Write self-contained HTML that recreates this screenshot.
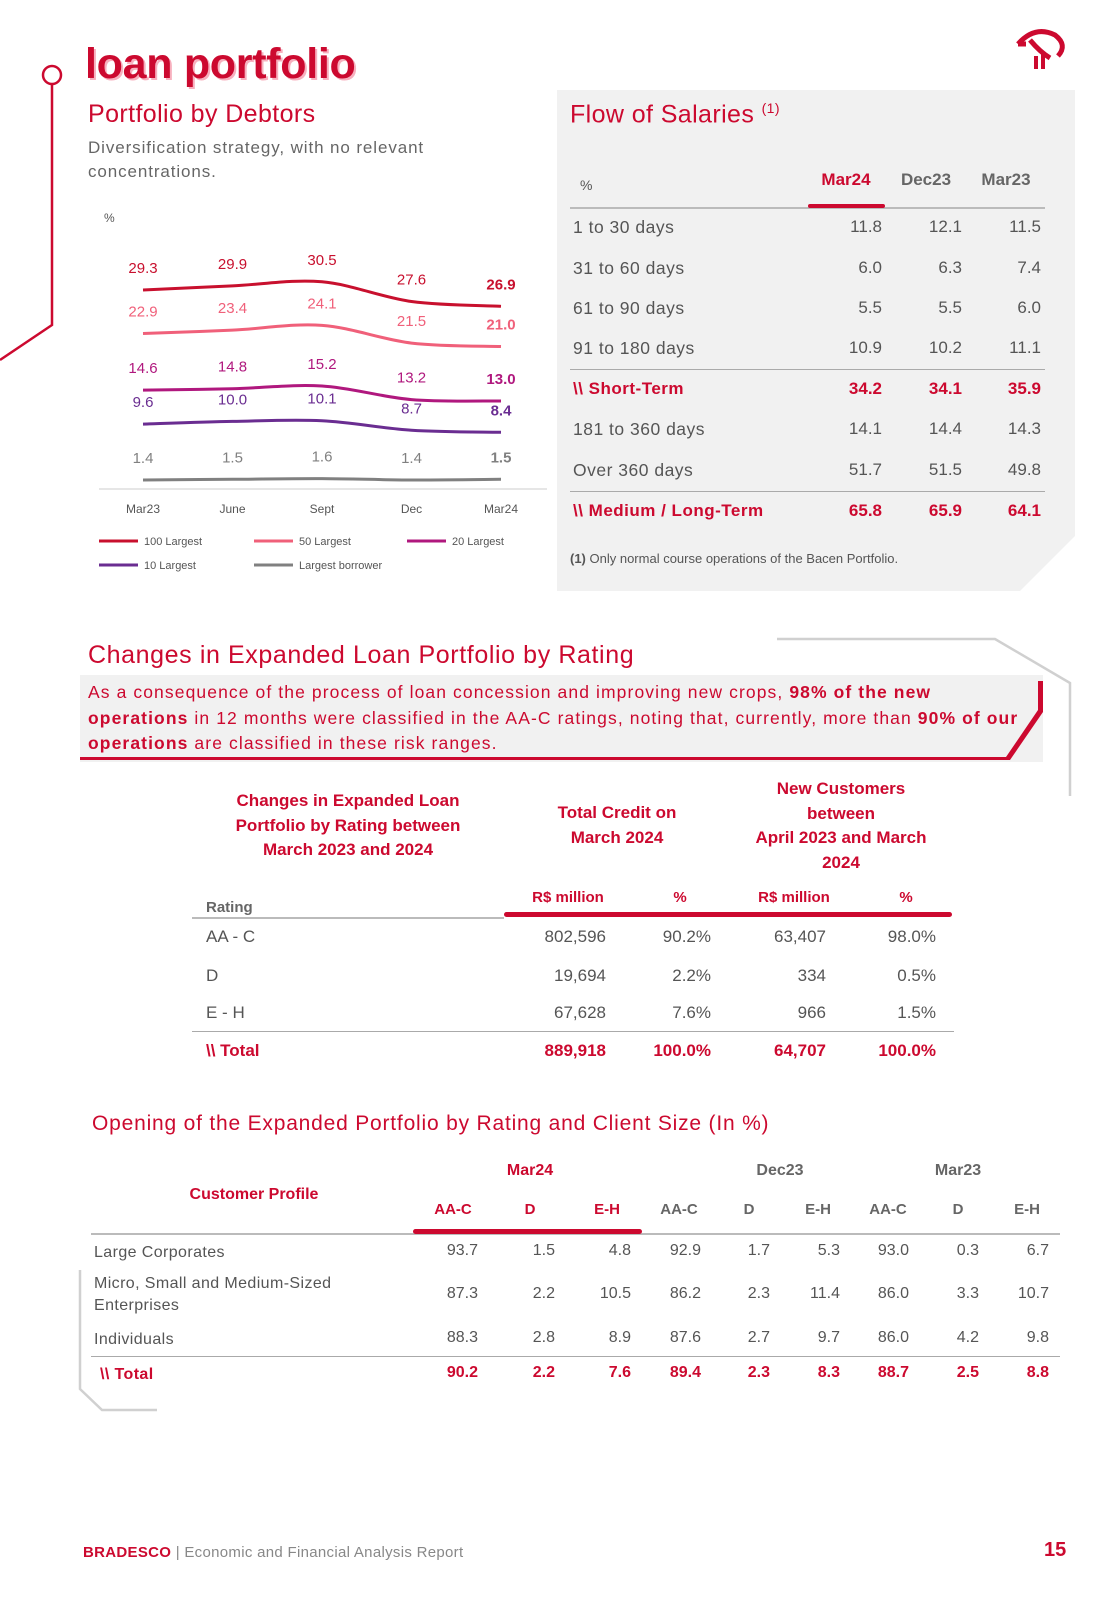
<!DOCTYPE html>
<html><head><meta charset="utf-8"><style>
body{margin:0;background:#fff;}
#page{position:relative;width:1105px;height:1602px;overflow:hidden;font-family:"Liberation Sans",sans-serif;color:#555;}
.a{position:absolute;white-space:nowrap;}
.red{color:#cc092f;}
.b{font-weight:bold;}
.r{text-align:right;}
.c{text-align:center;}
</style></head><body>
<div id="page">
<svg class="a" style="left:0;top:0" width="1105" height="1602">
 <circle cx="52" cy="75" r="9" fill="#fff" stroke="#cc092f" stroke-width="2.5"/>
 <polyline points="52,84 52,325 0,360" fill="none" stroke="#cc092f" stroke-width="2.5"/>
 <path d="M557 90 H1075 V536 L1020 591 H557 Z" fill="#f1f1f1"/>
 <polyline points="777,639 995,639 1070,683 1070,796" fill="none" stroke="#d0d0d0" stroke-width="2.5"/>
 <rect x="80" y="675" width="963" height="87" fill="#f1f1f1"/>
 <path d="M80 760 H1010 L1043 712 V681 H1038 V710 L1006 757 H80 Z" fill="#cc092f"/>
 <polyline points="80,1270 80,1389 102,1410 157,1410" fill="none" stroke="#d0d0d0" stroke-width="2.5"/>
 <g fill="none" stroke="#cc092f" stroke-width="5">
  <path d="M1018 44 Q1035 25 1055 35 Q1068 45 1058 56" />
  <path d="M1018 44 L1026 44 M1030 40 Q1040 52 1050 58"/>
 </g>
 <rect x="1034" y="56" width="4" height="13" fill="#cc092f"/><rect x="1041" y="52" width="4" height="17" fill="#cc092f"/>
</svg>

<div class="a red b" style="left:85px;top:40px;font-size:43px;text-shadow:2px 2px 0 #f7b0be;letter-spacing:-0.3px">loan portfolio</div>
<div class="a red" style="left:88px;top:100px;font-size:25px;letter-spacing:0.4px">Portfolio by Debtors</div>
<div class="a" style="left:88px;top:136px;font-size:17px;line-height:24px;color:#666;letter-spacing:0.9px">Diversification strategy, with no relevant<br>concentrations.</div>

<svg id="chart" class="a" style="left:0;top:0" width="560" height="600"></svg>

<!-- Flow of salaries -->
<div class="a red" style="left:570px;top:100px;font-size:25px;letter-spacing:0.4px">Flow of Salaries <sup style="font-size:14px">(1)</sup></div>
<div class="a" style="left:580px;top:177px;font-size:14px">%</div>
<div class="a red b c" style="left:806px;top:170px;width:80px;font-size:17px">Mar24</div>
<div class="a b c" style="left:886px;top:170px;width:80px;font-size:17px;color:#666">Dec23</div>
<div class="a b c" style="left:966px;top:170px;width:80px;font-size:17px;color:#666">Mar23</div>
<div class="a" style="left:570px;top:207px;width:475px;height:2px;background:#bbb"></div>
<div class="a" style="left:808px;top:204px;width:77px;height:4px;background:#cc092f;border-radius:2px"></div>
<div class="a" style="left:570px;top:369px;width:475px;height:1px;background:#aaa"></div>
<div class="a" style="left:570px;top:491px;width:475px;height:1px;background:#aaa"></div>
<div id="salaries"></div>
<div class="a" style="left:570px;top:551px;font-size:13px;color:#555"><b>(1)</b> Only normal course operations of the Bacen Portfolio.</div>

<!-- section 2 -->
<div class="a red" style="left:88px;top:641px;font-size:25px;letter-spacing:0.6px">Changes in Expanded Loan Portfolio by Rating</div>
<div class="a red" style="left:88px;top:680px;font-size:17.5px;line-height:25.5px;letter-spacing:1.1px">As a consequence of the process of loan concession and improving new crops, <b>98% of the new</b><br><b>operations</b> in 12 months were classified in the AA-C ratings, noting that, currently, more than <b>90% of our</b><br><b>operations</b> are classified in these risk ranges.</div>

<div class="a red b c" style="left:198px;top:789px;width:300px;font-size:17px;line-height:24.5px">Changes in Expanded Loan<br>Portfolio by Rating between<br>March 2023 and 2024</div>
<div class="a red b c" style="left:517px;top:801px;width:200px;font-size:17px;line-height:24.5px">Total Credit on<br>March 2024</div>
<div class="a red b c" style="left:721px;top:777px;width:240px;font-size:17px;line-height:24.5px">New Customers<br>between<br>April 2023 and March<br>2024</div>
<div class="a b" style="left:206px;top:899px;font-size:15px;color:#666">Rating</div>
<div class="a red b c" style="left:518px;top:889px;width:100px;font-size:15px">R$ million</div>
<div class="a red b c" style="left:640px;top:889px;width:80px;font-size:15px">%</div>
<div class="a red b c" style="left:744px;top:889px;width:100px;font-size:15px">R$ million</div>
<div class="a red b c" style="left:866px;top:889px;width:80px;font-size:15px">%</div>
<div class="a" style="left:192px;top:917px;width:312px;height:2px;background:#bbb"></div>
<div class="a" style="left:504px;top:912px;width:448px;height:5px;background:#cc092f;border-radius:3px"></div>
<div class="a" style="left:192px;top:1031px;width:762px;height:1px;background:#aaa"></div>
<div id="rating"></div>

<!-- section 3 -->
<div class="a red" style="left:92px;top:1112px;font-size:21px;letter-spacing:0.8px">Opening of the Expanded Portfolio by Rating and Client Size (In %)</div>
<div class="a red b c" style="left:154px;top:1186px;width:200px;font-size:16px">Customer Profile</div>
<div class="a red b c" style="left:480px;top:1162px;width:100px;font-size:16px">Mar24</div>
<div class="a b c" style="left:730px;top:1162px;width:100px;font-size:16px;color:#666">Dec23</div>
<div class="a b c" style="left:908px;top:1162px;width:100px;font-size:16px;color:#666">Mar23</div>
<div class="a" style="left:91px;top:1233px;width:969px;height:2px;background:#bbb"></div>
<div class="a" style="left:413px;top:1229px;width:229px;height:5px;background:#cc092f;border-radius:3px"></div>
<div class="a" style="left:91px;top:1356px;width:969px;height:1px;background:#aaa"></div>
<div id="profile"></div>

<div class="a" style="left:83px;top:1544px;font-size:15px;color:#888;letter-spacing:0.3px"><b class="red">BRADESCO</b> | Economic and Financial Analysis Report</div>
<div class="a red b" style="left:1044px;top:1539px;font-size:20px">15</div>
</div>
<script>
const categories=["Mar23","June","Sept","Dec","Mar24"];
const seriesNames=["100 Largest","50 Largest","20 Largest","10 Largest","Largest borrower"];
const s100=[29.3,29.9,30.5,27.6,26.9];
const s50=[22.9,23.4,24.1,21.5,21.0];
const s20=[14.6,14.8,15.2,13.2,13.0];
const s10=[9.6,10.0,10.1,8.7,8.4];
const s1=[1.4,1.5,1.6,1.4,1.5];
const colors=["#c8102e","#f0607a","#b0187e","#6a2d91","#808080"];
const NS="http://www.w3.org/2000/svg";
const svg=document.getElementById('chart');
const xA=i=>143+i*89.5;
const yA=v=>489.5-v*6.81;
function mk(t,a){const e=document.createElementNS(NS,t);for(const k in a)e.setAttribute(k,a[k]);svg.appendChild(e);return e;}
let t=mk('text',{x:104,y:222,'font-size':12,fill:'#555','font-family':'Liberation Sans'});t.textContent='%';


let ax=mk('line',{x1:99,x2:547,y1:489,y2:489,stroke:'#ccc','stroke-width':1});


categories.forEach((c,i)=>{const e=mk('text',{x:xA(i),y:513,'font-size':12,fill:'#555','text-anchor':'middle','font-family':'Liberation Sans'});e.textContent=c;

});
[s100,s50,s20,s10,s1].forEach((s,k)=>{
 const p=s.map((v,i)=>[xA(i),yA(v)]);
 let d='M'+p[0][0]+' '+p[0][1];
 for(let i=0;i<p.length-1;i++){const p0=p[Math.max(0,i-1)],p1=p[i],p2=p[i+1],p3=p[Math.min(p.length-1,i+2)];
  const c1=[p1[0]+(p2[0]-p0[0])/6,p1[1]+(p2[1]-p0[1])/6],c2=[p2[0]-(p3[0]-p1[0])/6,p2[1]-(p3[1]-p1[1])/6];
  d+=` C${c1[0]} ${c1[1]} ${c2[0]} ${c2[1]} ${p2[0]} ${p2[1]}`;}
 const ln=mk('path',{d:d,fill:'none',stroke:colors[k],'stroke-width':3});
 
 
 s.forEach((v,i)=>{const e=mk('text',{x:xA(i),y:yA(v)-17,'font-size':15,fill:colors[k],'text-anchor':'middle','font-family':'Liberation Sans','font-weight':i==4?'bold':'normal'});e.textContent=v.toFixed(1);
 
 });
 const lx=[99,254,407,99,254][k],ly=k<3?541:565;
 const ll=mk('line',{x1:lx,x2:lx+39,y1:ly,y2:ly,stroke:colors[k],'stroke-width':3});
 
 
 const lt=mk('text',{x:lx+45,y:ly+4,'font-size':11,fill:'#555','font-family':'Liberation Sans'});lt.textContent=seriesNames[k];
 
 
});
function div(parent,html,style,cls,name){const e=document.createElement('div');e.className='a '+(cls||'');e.setAttribute('style',style);e.innerHTML=html;


document.getElementById(parent).appendChild(e);}
const salRows=["1 to 30 days","31 to 60 days","61 to 90 days","91 to 180 days","\\\\ Short-Term","181 to 360 days","Over 360 days","\\\\ Medium / Long-Term"];
const salVals=[["11.8","12.1","11.5"],["6.0","6.3","7.4"],["5.5","5.5","6.0"],["10.9","10.2","11.1"],["34.2","34.1","35.9"],["14.1","14.4","14.3"],["51.7","51.5","49.8"],["65.8","65.9","64.1"]];
const salY=[228,269,309,349,390,430,471,512];
salRows.forEach((r,i)=>{const bold=(i==4||i==7);const cls=bold?'red b':'';const y=salY[i]-11;
 div('salaries',r,`left:573px;top:${y}px;font-size:${bold?17:17.5}px;letter-spacing:0.5px`,cls,'salary-row-label');
 [882,962,1041].forEach((x,j)=>div('salaries',salVals[i][j],`left:${x-80}px;width:80px;top:${y}px;font-size:17px`,'r '+cls,'salary-value'));});
const ratRows=["AA - C","D","E - H","\\\\ Total"];
const ratVals=[["802,596","90.2%","63,407","98.0%"],["19,694","2.2%","334","0.5%"],["67,628","7.6%","966","1.5%"],["889,918","100.0%","64,707","100.0%"]];
[938,977,1014,1052].forEach((y,i)=>{const cls=i==3?'red b':'';
 div('rating',ratRows[i],`left:206px;top:${y-11}px;font-size:17px`,cls,'rating-row-label');
 [606,711,826,936].forEach((x,j)=>div('rating',ratVals[i][j],`left:${x-100}px;width:100px;top:${y-11}px;font-size:17px`,'r '+cls,'rating-value'));});
const subs=["AA-C","D","E-H","AA-C","D","E-H","AA-C","D","E-H"];
const subX=[453,530,607,679,749,818,888,958,1027];
subs.forEach((s,j)=>div('profile',s,`left:${subX[j]-40}px;width:80px;top:1201px;font-size:15px;${j<3?'':'color:#666'}`,'b c'+(j<3?' red':''),'sub-header'));
const profRows=["Large Corporates","Micro, Small and Medium-Sized<br>Enterprises","Individuals","\\\\ Total"];
const profVals=[["93.7","1.5","4.8","92.9","1.7","5.3","93.0","0.3","6.7"],["87.3","2.2","10.5","86.2","2.3","11.4","86.0","3.3","10.7"],["88.3","2.8","8.9","87.6","2.7","9.7","86.0","4.2","9.8"],["90.2","2.2","7.6","89.4","2.3","8.3","88.7","2.5","8.8"]];
const profEnd=[478,555,631,701,770,840,909,979,1049];
[1252,1295,1339,1374].forEach((y,i)=>{const cls=i==3?'red b':'';
 div('profile',profRows[i],`left:${i==3?100:94}px;top:${i==1?y-22:y-10}px;font-size:16px;line-height:22px;letter-spacing:0.4px`,cls,'profile-row-label');
 profEnd.forEach((x,j)=>div('profile',profVals[i][j],`left:${x-60}px;width:60px;top:${y-10}px;font-size:16px`,'r '+cls,'profile-value'));});
</script>
</body></html>
